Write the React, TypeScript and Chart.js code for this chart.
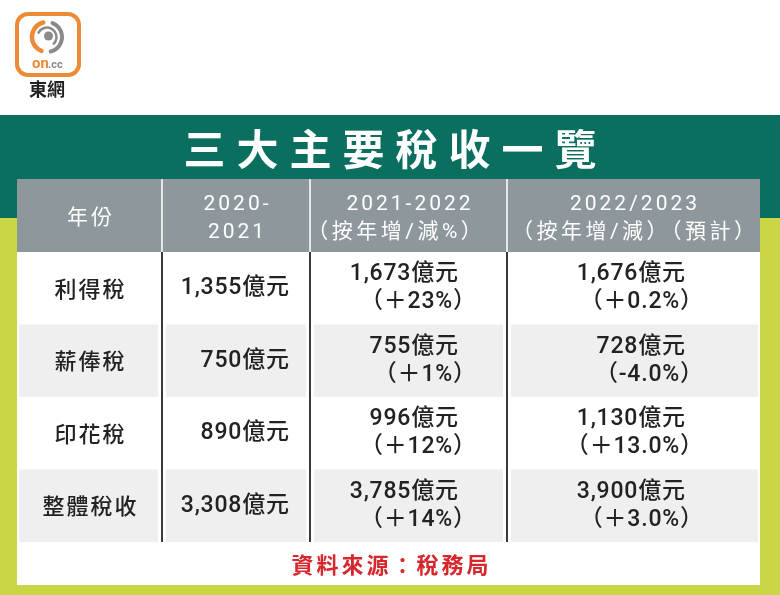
import React, { useEffect, useRef } from 'react';
import { Chart, registerables } from 'chart.js';

Chart.register(...registerables);

const TITLE = '三大主要稅收一覽';
const SOURCE = '資料來源：稅務局';
const BRAND = '東網';
const HEADER_LINES: string[][] = [
  ['年份'],
  ['2020-', '2021'],
  ['2021-2022', '（按年增/減%）'],
  ['2022/2023', '（按年增/減）（預計）'],
];
const ROWS = ['利得稅', '薪俸稅', '印花稅', '整體稅收'];
const Y2021 = ['1,355億元', '750億元', '890億元', '3,308億元'];
const Y2022 = ['1,673億元', '755億元', '996億元', '3,785億元'];
const CHG2022 = ['（＋23%）', '（＋1%）', '（＋12%）', '（＋14%）'];
const Y2023 = ['1,676億元', '728億元', '1,130億元', '3,900億元'];
const CHG2023 = ['（＋0.2%）', '（-4.0%）', '（＋13.0%）', '（＋3.0%）'];

const FONT = 'Roboto, "Noto Sans CJK TC", sans-serif';
const CJK = '"Noto Sans CJK TC", sans-serif';

export default function App() {
  const ref = useRef<HTMLCanvasElement>(null);

  useEffect(() => {
    document.body.style.margin = '0';
    const canvas = ref.current!;

    const tablePlugin = {
      id: 'taxTable',
      afterDraw(chart: any) {
        const ctx: CanvasRenderingContext2D = chart.ctx;
        const W = chart.width;
        const H = chart.height;
        const area = chart.chartArea;
        const yScale = chart.scales.y;
        const L = area.left;
        const R = area.right;
        const cols = [L, 162, 310, 507, R];
        const headerTop = 179;
        const headerBottom = area.top;
        const bodyBottom = area.bottom;
        const tableBottom = 585;
        const band = (area.bottom - area.top) / ROWS.length;

        const text = (
          s: string,
          x: number,
          y: number,
          font: string,
          color: string,
          align: CanvasTextAlign,
          spacing: number
        ) => {
          ctx.save();
          ctx.font = font;
          ctx.fillStyle = color;
          (ctx as any).letterSpacing = spacing + 'px';
          ctx.textBaseline = 'middle';
          ctx.textAlign = align;
          let xx = x;
          if (align === 'center') xx = x + spacing / 2;
          if (align === 'right') xx = x + spacing;
          ctx.fillText(s, xx, y);
          ctx.restore();
        };

        ctx.save();
        // page backgrounds
        ctx.fillStyle = '#ffffff';
        ctx.fillRect(0, 0, W, H);
        ctx.fillStyle = '#0b6f5f';
        ctx.fillRect(0, 115, W, 103);
        ctx.fillStyle = '#c9d646';
        ctx.fillRect(0, 218, W, H - 218);

        // logo
        ctx.fillStyle = '#ffffff';
        ctx.strokeStyle = '#ec8a35';
        ctx.lineWidth = 4;
        ctx.beginPath();
        (ctx as any).roundRect(17, 14, 62, 61, 11);
        ctx.fill();
        ctx.stroke();
        const cx = 47, cy = 37;
        ctx.lineCap = 'round';
        ctx.strokeStyle = '#ec8a35';
        ctx.lineWidth = 4.5;
        ctx.beginPath();
        ctx.arc(cx, cy, 15, 0.62 * Math.PI, 1.42 * Math.PI);
        ctx.stroke();
        ctx.strokeStyle = '#8a8a8a';
        ctx.lineWidth = 4;
        ctx.beginPath();
        ctx.arc(cx, cy, 15, 1.62 * Math.PI, 0.42 * Math.PI);
        ctx.stroke();
        ctx.lineWidth = 2.5;
        ctx.beginPath();
        ctx.arc(cx, cy, 9.5, 1.15 * Math.PI, 0.25 * Math.PI);
        ctx.stroke();
        ctx.fillStyle = '#8a8a8a';
        ctx.beginPath();
        ctx.arc(cx + 1.5, cy - 1, 4.5, 0, 2 * Math.PI);
        ctx.fill();
        ctx.restore();
        text('on', 32, 64, 'bold 15px Roboto, sans-serif', '#ec8a35', 'left', 0);
        text('.cc', 48, 65, 'bold 11px Roboto, sans-serif', '#8a8a8a', 'left', 0);
        text(BRAND, 47, 89, 'bold 18px ' + CJK, '#222222', 'center', 0);

        // title
        text(TITLE, 390, 149, 'bold 42px ' + CJK, '#ffffff', 'center', 11);

        // table
        ctx.save();
        ctx.fillStyle = '#ffffff';
        ctx.fillRect(L, headerTop, R - L, tableBottom - headerTop);
        ctx.fillStyle = '#8e979c';
        ctx.fillRect(L, headerTop, R - L, headerBottom - headerTop);

        // alternating row shading
        ROWS.forEach((_, i) => {
          if (i % 2 === 1) {
            const yc = yScale.getPixelForValue(i);
            ctx.fillStyle = '#efefef';
            for (let c = 0; c < 4; c++) {
              const x0 = cols[c] + (c === 0 ? 2 : 4);
              const x1 = cols[c + 1] - (c === 3 ? 2 : 4);
              ctx.fillRect(x0, yc - band / 2, x1 - x0, band);
            }
          }
        });

        // dividers
        for (let c = 1; c < 4; c++) {
          ctx.fillStyle = '#e4e6e7';
          ctx.fillRect(cols[c] - 1, headerTop, 2, headerBottom - headerTop);
          ctx.fillStyle = '#3a3a3a';
          ctx.fillRect(cols[c] - 1, headerBottom, 2, bodyBottom - headerBottom);
        }
        ctx.restore();

        // header text
        const hMid = (headerTop + headerBottom) / 2 + 3;
        const headerShift = [0, 0, -14, 0];
        HEADER_LINES.forEach((lines, c) => {
          const xc = (cols[c] + cols[c + 1]) / 2;
          lines.forEach((ln, k) => {
            const single = lines.length === 1;
            const y = single ? hMid : hMid + (k === 0 ? -14 : 14);
            const x = k === 1 ? xc + headerShift[c] : xc;
            const sp = k === 1 && c >= 2 ? 3.5 : 3;
            text(ln, x, y, '400 21px ' + FONT, '#ffffff', 'center', sp);
          });
        });

        // body text
        const BODY = '500 23px ' + FONT;
        ROWS.forEach((name, i) => {
          const yc = yScale.getPixelForValue(i);
          text(name, (cols[0] + cols[1]) / 2, yc, '500 22px ' + CJK, '#222222', 'center', 2);
          text(Y2021[i], 289, yc, BODY, '#222222', 'right', 0.8);
          text(Y2022[i], 458, yc - 14, BODY, '#222222', 'right', 0.8);
          text(CHG2022[i], 476, yc + 14, BODY, '#222222', 'right', 0.8);
          text(Y2023[i], 685, yc - 14, BODY, '#222222', 'right', 0.8);
          text(CHG2023[i], 703, yc + 14, BODY, '#222222', 'right', 0.8);
        });

        // source
        text(SOURCE, 390, (bodyBottom + tableBottom) / 2 + 1, 'bold 22px ' + CJK, '#d7262c', 'center', 3);
      },
    };

    const chart = new Chart(canvas, {
      type: 'bar',
      data: {
        labels: ROWS,
        datasets: [{ data: ROWS.map(() => 0), backgroundColor: 'rgba(0,0,0,0)' }],
      },
      options: {
        indexAxis: 'y',
        responsive: false,
        animation: false,
        devicePixelRatio: 1,
        events: [],
        layout: { padding: { left: 17, right: 20, top: 252, bottom: 53 } },
        plugins: { legend: { display: false }, tooltip: { enabled: false } },
        scales: {
          x: { display: false, min: 0, max: 1 },
          y: { display: false, offset: true },
        },
      },
      plugins: [tablePlugin],
    } as any);

    return () => chart.destroy();
  }, []);

  return <canvas ref={ref} width={780} height={595} style={{ display: 'block' }} />;
}
